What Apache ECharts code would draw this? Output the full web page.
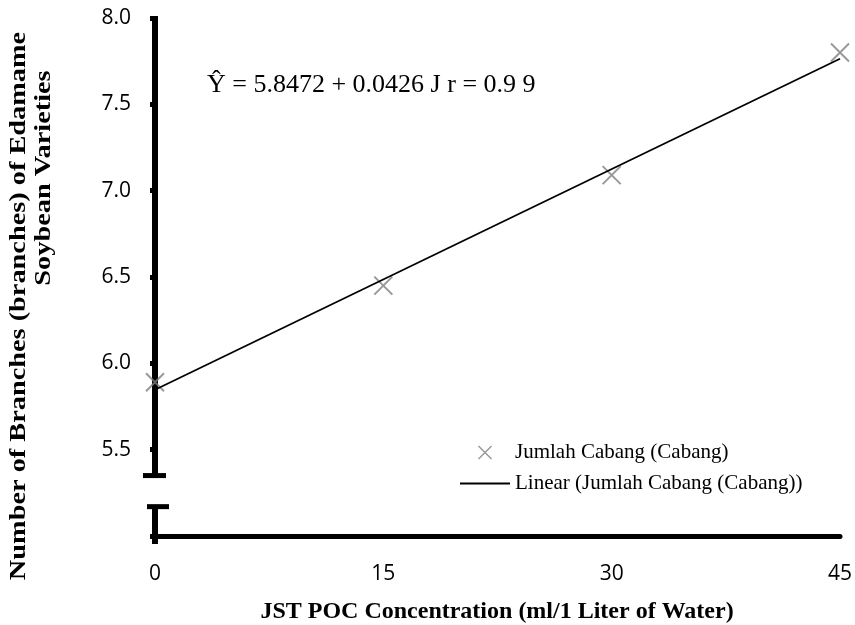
<!DOCTYPE html>
<html><head><meta charset="utf-8">
<script src="https://cdn.jsdelivr.net/npm/echarts@6/dist/echarts.min.js"></script>
<style>html,body{margin:0;padding:0;background:#fff}#c{width:855px;height:625px}</style>
</head><body><div id="c"></div>
<script>
const concentrations = [0, 15, 30, 45];
const branches = [5.89, 6.45, 7.09, 7.80];
const trendX = [0, 45];
const trendY = [5.8472, 7.7642];
const yTicks = ['5.5', '6.0', '6.5', '7.0', '7.5', '8.0'];
const xTicks = ['0', '15', '30', '45'];
const equation = 'Ŷ = 5.8472 + 0.0426 J r = 0.9 9';
const seriesNames = ['Jumlah Cabang (Cabang)', 'Linear (Jumlah Cabang (Cabang))'];
const yTitleLines = ['Number of Branches (branches) of Edamame', 'Soybean Varieties'];
const xTitle = 'JST POC Concentration (ml/1 Liter of Water)';
const axisBreak = [5.17, 5.35];

const crossPath = 'path://M0,0L10,10M10,0L0,10';
const linePath = 'path://M0,0L50,0L50,1.8L0,1.8Z';
const chart = echarts.init(document.getElementById('c'), null, {renderer: 'canvas'});
const tickFont = {fontFamily: 'Open Sans', fontSize: 21, color: '#000'};
chart.setOption({
  animation: false,
  backgroundColor: '#fff',
  grid: {left: 155, right: 15, top: 18, bottom: 89, containLabel: false},
  xAxis: {
    type: 'value', min: 0, max: 45, interval: 15,
    axisLine: {show: true, lineStyle: {color: '#000', width: 5}},
    axisTick: {show: false},
    splitLine: {show: false},
    axisLabel: Object.assign({margin: 28, formatter: v => xTicks.includes(String(v)) ? String(v) : ''}, tickFont)
  },
  yAxis: {
    type: 'value', min: 5, max: 8, interval: 0.5,
    axisLine: {show: false},
    axisTick: {show: true, length: 5, lineStyle: {color: '#000', width: 5}},
    splitLine: {show: false},
    axisLabel: Object.assign({margin: 24, formatter: v => yTicks.includes(v.toFixed(1)) ? v.toFixed(1) : ''}, tickFont)
  },
  legend: {
    orient: 'vertical', left: 455, top: 437, itemWidth: 50, itemHeight: 13, itemGap: 10,
    textStyle: {fontFamily: 'Liberation Serif', fontSize: 21, color: '#000'},
    data: [
      {name: seriesNames[0], icon: crossPath, itemStyle: {color: 'rgba(0,0,0,0)', borderColor: '#7f7f7f', borderWidth: 1.5}},
      {name: seriesNames[1], icon: linePath, itemStyle: {color: '#000', borderWidth: 0}}
    ]
  },
  series: [
    {
      name: seriesNames[0], type: 'scatter', z: 2,
      symbol: crossPath, symbolSize: 18,
      itemStyle: {color: 'rgba(0,0,0,0)', borderColor: '#7f7f7f', borderWidth: 2},
      data: concentrations.map((x, i) => [x, branches[i]])
    },
    {
      name: seriesNames[1], type: 'line', z: 3,
      symbol: 'none', showSymbol: false,
      lineStyle: {color: '#000', width: 1.8}, itemStyle: {color: '#000'},
      data: trendX.map((x, i) => [x, trendY[i]])
    }
  ]
});

const px = v => chart.convertToPixel({gridIndex: 0}, [0, v]);
const pTop = px(8), bTop = px(axisBreak[1]), bBot = px(axisBreak[0]), pBottom = px(5);
const x0 = pTop[0];
const stroke = w => ({stroke: '#000', lineWidth: w});
const yTitleFont = 'bold 24px "Liberation Serif"';
chart.setOption({
  graphic: [
    {type: 'line', z: 1, shape: {x1: x0, y1: pTop[1] - 2, x2: x0, y2: bTop[1]}, style: stroke(6)},
    {type: 'line', z: 1, shape: {x1: x0 - 12, y1: bTop[1], x2: x0 + 11, y2: bTop[1]}, style: stroke(5)},
    {type: 'line', z: 1, shape: {x1: x0 - 8, y1: bBot[1], x2: x0 + 14, y2: bBot[1]}, style: stroke(5)},
    {type: 'line', z: 1, shape: {x1: x0, y1: bBot[1], x2: x0, y2: pBottom[1] + 8}, style: stroke(6)},
    {type: 'text', x: 207, y: 85, style: {text: equation, font: '26px "Liberation Serif"', fill: '#000', textVerticalAlign: 'middle'}},
    {type: 'text', x: 497, y: 612, style: {text: xTitle, font: 'bold 24px "Liberation Serif"', fill: '#000', textAlign: 'center', textVerticalAlign: 'middle'}},
    {type: 'text', x: 19, y: 306, rotation: Math.PI / 2, scaleX: 1.18, style: {text: yTitleLines[0], font: yTitleFont, fill: '#000', textAlign: 'center', textVerticalAlign: 'middle'}},
    {type: 'text', x: 44, y: 178, rotation: Math.PI / 2, scaleX: 1.18, style: {text: yTitleLines[1], font: yTitleFont, fill: '#000', textAlign: 'center', textVerticalAlign: 'middle'}}
  ]
});
</script></body></html>
